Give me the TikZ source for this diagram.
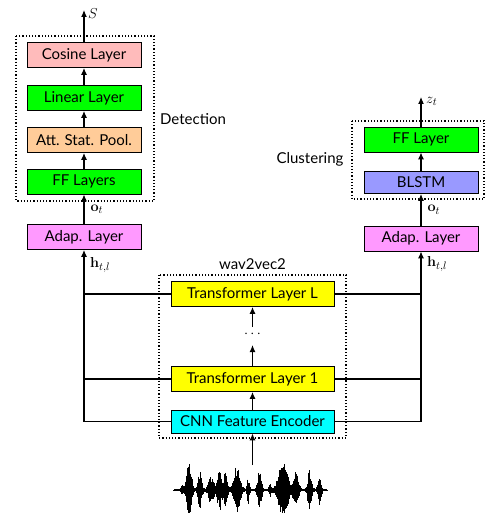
\documentclass[tikz,border=0pt]{standalone}
\usepackage[no-math]{fontspec}
\setmainfont{Lato}
\usetikzlibrary{arrows.meta}
\definecolor{cpink}{RGB}{255,187,187}
\definecolor{cgreen}{RGB}{0,255,0}
\definecolor{corange}{RGB}{255,204,153}
\definecolor{cmag}{RGB}{255,153,255}
\definecolor{cblue}{RGB}{153,153,255}
\definecolor{cyell}{RGB}{255,255,0}
\definecolor{ccyan}{RGB}{0,255,255}
\begin{document}
\begin{tikzpicture}[x=1pt,y=-1pt,
  every node/.style={font=\fontsize{15}{17}\selectfont, inner sep=0pt},
  layer/.style={draw=black, line width=0.9pt, minimum height=25pt, minimum width=114pt},
  wlayer/.style={layer, minimum width=163pt},
  arr/.style={line width=1.1pt, -{Latex[length=7pt,width=6pt]}},
  ln/.style={line width=1.1pt},
  grp/.style={dotted, line width=1.2pt},
  lab/.style={anchor=west}]
\path[use as bounding box, clip] (0,0) rectangle (485,513);
% left column
\node[layer, fill=cpink] (cos) at (84,55) {Cosine Layer};
\node[layer, fill=cgreen] (lin) at (84,98) {Linear Layer};
\node[layer, fill=corange] (att) at (84,140) {Att. Stat. Pool.};
\node[layer, fill=cgreen] (ffl) at (84,181.5) {FF Layers};
\node[layer, fill=cmag] (adl) at (84,237) {Adap. Layer};
\draw[grp] (16,36) rectangle (154,201);
\node (det) at (193,119) {Detection};
\coordinate (S) at (84,10);
\node[lab] at (88,14) {$S$};
% right column
\node[layer, fill=cgreen] (ffr) at (421,139.5) {FF Layer};
\node[layer, fill=cblue, minimum height=22pt] (bl) at (421,182.5) {BLSTM};
\node[layer, fill=cmag] (adr) at (421,238.5) {Adap. Layer};
\draw[grp] (352,121) rectangle (484,199);
\node (clu) at (310,159) {Clustering};
\coordinate (z) at (421,97);
\node[lab] at (426,101) {$z_t$};
% middle
\node (w2v) at (252.5,264) {wav2vec2};
\node[wlayer, fill=cyell] (tl) at (252.5,294) {Transformer Layer L};
\node (dots) at (252.5,334) {$\cdots$};
\node[wlayer, fill=cyell] (t1) at (252.5,379) {Transformer Layer 1};
\node[wlayer, fill=ccyan, minimum height=23pt] (cnn) at (252.5,421.5) {CNN Feature Encoder};
\draw[grp] (159,275) rectangle (346,438);
% connectors left
\draw[arr] (cos.north) -- (S);
\draw[arr] (lin.north) -- (cos.south);
\draw[arr] (att.north) -- (lin.south);
\draw[arr] (ffl.north) -- (att.south);
\draw[arr] (adl.north) -- node[lab, xshift=6pt] {$\mathbf{o}_t$} (ffl.south);
\draw[arr] (cnn.west -| adl.south) -- (adl.south);
\node[lab] at (90,265) {$\mathbf{h}_{t,l}$};
\draw[ln] (tl.west) -- (tl.west -| adl.south);
\draw[ln] (t1.west) -- (t1.west -| adl.south);
\draw[ln] (cnn.west) -- (cnn.west -| adl.south);
% connectors right
\draw[arr] (ffr.north) -- (z);
\draw[arr] (bl.north) -- (ffr.south);
\draw[arr] (adr.north) -- node[lab, xshift=6pt] {$\mathbf{o}_t$} (bl.south);
\draw[arr] (cnn.east -| adr.south) -- (adr.south);
\node[lab] at (427,264) {$\mathbf{h}_{t,l}$};
\draw[ln] (tl.east) -- (tl.east -| adr.south);
\draw[ln] (t1.east) -- (t1.east -| adr.south);
\draw[ln] (cnn.east) -- (cnn.east -| adr.south);
% middle arrows
\draw[arr] (cnn.north) -- (t1.south);
\draw[arr] (t1.north) -- (252.5,345);
\draw[arr] (252.5,327) -- (tl.south);
\coordinate (wav) at (252.5,465);
\draw[arr] (wav) -- (cnn.south);
% waveform
\draw[line width=0.5pt] (173,490) -- (328,490);
\pgfmathsetseed{11}
\pgfmathdeclarefunction{envl}{1}{%
  \pgfmathparse{5*exp(-((#1-182)/1.5)^2)+30*exp(-((#1-189)/3)^2)+17*exp(-((#1-200)/2.5)^2)%
  +13*exp(-((#1-211)/3.5)^2)+22*exp(-((#1-219.5)/2.5)^2)+17*exp(-((#1-225.5)/2.5)^2)%
  +24*exp(-((#1-237)/4)^2)+13*exp(-((#1-248)/1.5)^2)+20*exp(-((#1-259.5)/2.5)^2)%
  +6*exp(-((#1-270)/1.5)^2)+27*exp(-((#1-283)/6)^2)+17*exp(-((#1-296)/3)^2)%
  +19*exp(-((#1-309.5)/2.5)^2)+14*exp(-((#1-319.5)/2)^2)+1}}
\foreach \x in {174,174.4,...,327} {
  \pgfmathsetmacro{\e}{envl(\x)}
  \pgfmathsetmacro{\u}{\e*(0.45+0.55*rnd)}
  \pgfmathsetmacro{\d}{\e*(0.45+0.55*rnd)}
  \draw[line width=0.7pt] (\x,490-\u) -- (\x,490+\d);
}
\end{tikzpicture}
\end{document}
